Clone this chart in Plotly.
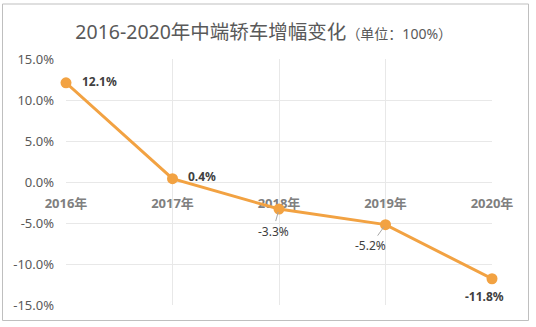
import plotly.graph_objects as go

# ---- data ----
years = ["2016年", "2017年", "2018年", "2019年", "2020年"]
growth = [12.1, 0.4, -3.3, -5.2, -11.8]
label_text = ["12.1%", "0.4%", "-3.3%", "-5.2%", "-11.8%"]
y_ticks = [15, 10, 5, 0, -5, -10, -15]
y_tick_text = ["15.0%", "10.0%", "5.0%", "0.0%", "-5.0%", "-10.0%", "-15.0%"]

# label styling (offsets in px, bold flag, leader line flag)
label_dx = [14, 13, -6, -15, -8]
label_dy = [-1, -2, 22, 21, 18]
label_anchor = ["left", "left", "center", "center", "center"]
label_bold = [True, True, False, False, True]
label_leader = [False, False, True, True, False]

W, H = 536, 327
ML, MR, MT, MB = 66, 44, 59, 22
LINE = "#F2A242"
FONT = "Noto Sans, Noto Sans CJK SC, sans-serif"

fig = go.Figure()
fig.add_trace(go.Scatter(
    x=years, y=growth, mode="lines+markers",
    line=dict(color=LINE, width=3),
    marker=dict(color=LINE, size=11),
    cliponaxis=False, hoverinfo="skip",
))

for i, (yr, v, t) in enumerate(zip(years, growth, label_text)):
    txt = f"<b>{t}</b>" if label_bold[i] else t
    if label_leader[i]:
        fig.add_annotation(
            x=yr, y=v, text=txt, showarrow=True, arrowhead=0, arrowwidth=1,
            arrowcolor="#A6A6A6", ax=label_dx[i], ay=label_dy[i], standoff=3,
            font=dict(family=FONT, size=12, color="#404040"),
        )
    else:
        fig.add_annotation(
            x=yr, y=v, text=txt, showarrow=False, xanchor=label_anchor[i],
            yanchor="middle", xshift=label_dx[i], yshift=-label_dy[i],
            font=dict(family=FONT, size=12, color="#404040"),
        )

# outer border
pw, ph = W - ML - MR, H - MT - MB
bx0, bx1, by0, by1 = 2.5, 528.5, 4, 320.5
fig.add_shape(
    type="rect", xref="paper", yref="paper",
    x0=(bx0 - ML) / pw, x1=(bx1 - ML) / pw,
    y0=(H - MB - by1) / ph, y1=(H - MB - by0) / ph,
    line=dict(color="#BFBFBF", width=1), fillcolor="rgba(0,0,0,0)", layer="below",
)

fig.update_layout(
    width=W, height=H,
    margin=dict(l=ML, r=MR, t=MT, b=MB),
    paper_bgcolor="white", plot_bgcolor="white",
    showlegend=False,
    title=dict(
        text="2016-2020年中端轿车增幅变化<span style='font-size:14px'>（单位：100%）</span>",
        x=0.492, xanchor="center", y=1 - 32 / H, yanchor="middle",
        font=dict(family=FONT, size=19.5, color="#595959"),
    ),
    xaxis=dict(
        type="category", categoryarray=years, range=[0, len(years) - 1],
        anchor="free", position=0.5,
        showgrid=True, gridcolor="#E8E8E8", gridwidth=1,
        showline=False, zeroline=False, ticks="",
        ticklabelstandoff=12, layer="below traces",
        tickfont=dict(family=FONT, size=13, color="#7F7F7F", weight="bold"),
    ),
    yaxis=dict(
        range=[-15, 15], tickvals=y_ticks, ticktext=y_tick_text,
        showgrid=True, gridcolor="#E8E8E8", gridwidth=1,
        zeroline=False, showline=False, ticks="",
        ticklabelstandoff=11,
        tickfont=dict(family=FONT, size=13, color="#595959"),
    ),
)

fig.write_html("out.html")
